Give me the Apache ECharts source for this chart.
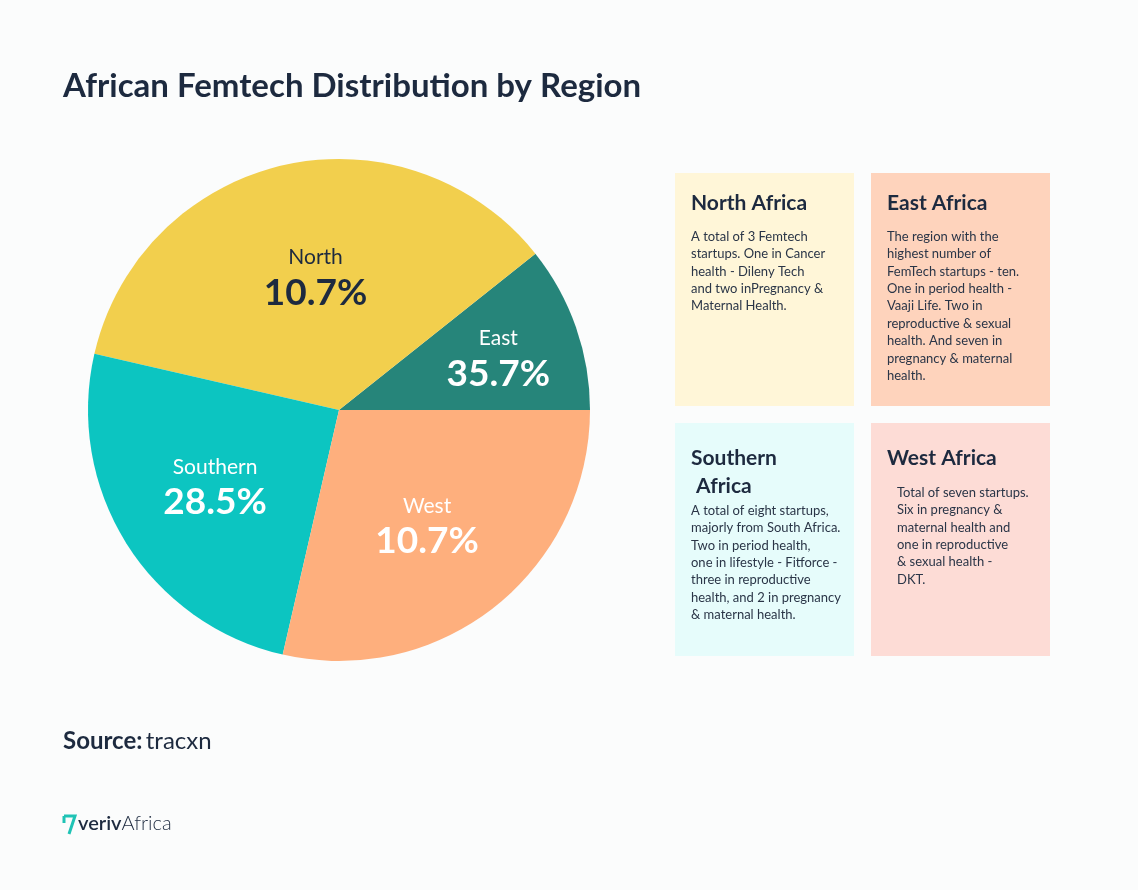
<!DOCTYPE html>
<html>
<head>
<meta charset="utf-8">
<script src="https://cdn.jsdelivr.net/npm/echarts@6/dist/echarts.min.js"></script>
<style>
html,body{margin:0;padding:0;background:#FBFCFC;}
#c{width:1138px;height:890px;}
</style>
</head>
<body>
<div id="c"></div>
<script>
// Region names, slice values (as drawn) and the label texts printed on the slices
const regions = ['East', 'North', 'Southern', 'West'];
const sliceValues = [10.7, 35.7, 25.0, 28.6];
const labelTexts = ['35.7%', '10.7%', '28.5%', '10.7%'];
const sliceColors = ['#26857A', '#F2CF4D', '#0CC5C1', '#FEAF7D'];
const labelColors = ['#FFFFFF', '#1D2A3F', '#FFFFFF', '#FFFFFF'];
const labelOffsets = [[38, -9], [5, -7], [-15, 9], [8, 16]];

const cardTitles = ['North Africa', 'East Africa', 'Southern\n Africa', 'West Africa'];
const cardTexts = [
  ['A total of 3 Femtech', 'startups. One in Cancer', 'health - Dileny Tech', 'and two inPregnancy &', 'Maternal Health.'],
  ['The region with the', 'highest number of', 'FemTech startups - ten.', 'One in period health -', 'Vaaji Life. Two in', 'reproductive & sexual', 'health. And seven in', 'pregnancy & maternal', 'health.'],
  ['A total of eight startups,', 'majorly from South Africa.', 'Two in period health,', 'one in lifestyle - Fitforce -', 'three in reproductive', 'health, and 2 in pregnancy', '& maternal health.'],
  ['Total of seven startups.', 'Six in pregnancy &', 'maternal health and', 'one in reproductive', '& sexual health -', 'DKT.']
];
const cardColors = ['#FFF6D8', '#FED3BC', '#E6FCFB', '#FDDCD6'];

const FONT = 'Lato, "Noto Sans", sans-serif';
const DARK = '#1D2A3F';

const chart = echarts.init(document.getElementById('c'));

const cardBoxes = [
  {x: 675, y: 173, tx: 691, ty: 189, by: 228},
  {x: 871, y: 173, tx: 887, ty: 189, by: 228},
  {x: 675, y: 423, tx: 691, ty: 444, by: 502},
  {x: 871, y: 423, tx: 887, ty: 444, by: 484, bx: 897}
];

const graphics = [];
cardBoxes.forEach((b, i) => {
  graphics.push({type: 'rect', left: b.x, top: b.y, shape: {width: 179, height: 233}, style: {fill: cardColors[i]}, z: 1});
  graphics.push({type: 'text', left: b.tx, top: b.ty, z: 2,
    style: {text: cardTitles[i], font: 'bold 21px ' + FONT, fill: DARK, lineHeight: 28}});
  graphics.push({type: 'text', left: b.bx || b.tx, top: b.by, z: 2,
    style: {text: cardTexts[i].join('\n'), font: '13px ' + FONT, fill: '#2A3547', lineHeight: 17.4}});
});

graphics.push({type: 'text', left: 63, top: 729, z: 2,
  style: {text: '{b|Source:} {r|tracxn}', rich: {
    b: {font: 'bold 24px ' + FONT, fill: DARK},
    r: {font: '24px ' + FONT, fill: DARK}}}});
// logo
graphics.push({type: 'polyline', z: 2, shape: {points: [[64, 816], [75, 816], [69, 834]]},
  style: {stroke: '#1FC3B5', lineWidth: 3, fill: 'none'}});
graphics.push({type: 'line', z: 2, shape: {x1: 64, y1: 816, x2: 64, y2: 823},
  style: {stroke: '#1FC3B5', lineWidth: 3}});
graphics.push({type: 'text', left: 78, top: 814, z: 2,
  style: {text: '{a|veriv}{b|Africa}', rich: {
    a: {font: '600 20px ' + FONT, fill: DARK},
    b: {font: '300 20px ' + FONT, fill: DARK}}}});

chart.setOption({
  backgroundColor: '#FBFCFC',
  title: {
    text: 'African Femtech Distribution by Region',
    left: 63, top: 70, padding: 0,
    textStyle: {fontFamily: FONT, fontWeight: 'bold', fontSize: 33, color: DARK}
  },
  graphic: graphics,
  series: [{
    type: 'pie',
    center: [339, 410],
    radius: 251,
    startAngle: 0,
    clockwise: false,
    silent: true,
    animation: false,
    itemStyle: {borderWidth: 0},
    label: {
      position: 'inside',
      fontFamily: FONT,
      formatter: p => '{n|' + p.name + '}\n{v|' + labelTexts[p.dataIndex] + '}',
      rich: {
        n: {fontSize: 21, fontFamily: FONT, lineHeight: 30, align: 'center'},
        v: {fontSize: 37, fontWeight: 'bold', fontFamily: FONT, lineHeight: 40, align: 'center'}
      }
    },
    labelLine: {show: false},
    data: regions.map((r, i) => ({
      name: r, value: sliceValues[i],
      itemStyle: {color: sliceColors[i]},
      label: {color: labelColors[i], offset: labelOffsets[i],
        rich: {n: {color: labelColors[i]}, v: {color: labelColors[i]}}}
    }))
  }]
});
</script>
</body>
</html>
